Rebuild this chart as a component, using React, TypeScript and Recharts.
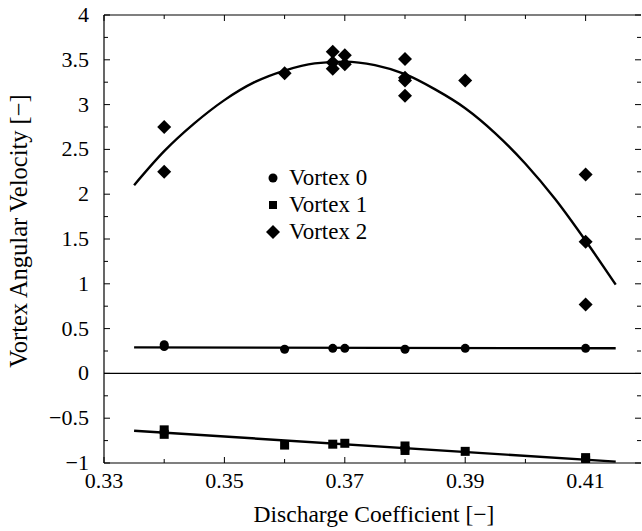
import React from "react";
import {
  ComposedChart,
  Line,
  Scatter,
  XAxis,
  YAxis,
  ReferenceLine,
  Legend,
  Label,
} from "recharts";

const FONT = "Liberation Serif, serif";

// measured points (discharge coefficient, angular velocity)
const vortex0 = [
  { x: 0.34, y: 0.32 },
  { x: 0.34, y: 0.3 },
  { x: 0.36, y: 0.27 },
  { x: 0.368, y: 0.28 },
  { x: 0.37, y: 0.28 },
  { x: 0.38, y: 0.27 },
  { x: 0.39, y: 0.28 },
  { x: 0.41, y: 0.28 },
];

const vortex1 = [
  { x: 0.34, y: -0.63 },
  { x: 0.34, y: -0.68 },
  { x: 0.36, y: -0.8 },
  { x: 0.368, y: -0.79 },
  { x: 0.37, y: -0.78 },
  { x: 0.38, y: -0.81 },
  { x: 0.38, y: -0.86 },
  { x: 0.39, y: -0.87 },
  { x: 0.41, y: -0.94 },
  { x: 0.41, y: -0.97 },
];

const vortex2 = [
  { x: 0.34, y: 2.75 },
  { x: 0.34, y: 2.25 },
  { x: 0.36, y: 3.35 },
  { x: 0.368, y: 3.59 },
  { x: 0.368, y: 3.47 },
  { x: 0.368, y: 3.4 },
  { x: 0.37, y: 3.55 },
  { x: 0.37, y: 3.45 },
  { x: 0.38, y: 3.51 },
  { x: 0.38, y: 3.3 },
  { x: 0.38, y: 3.27 },
  { x: 0.38, y: 3.1 },
  { x: 0.39, y: 3.27 },
  { x: 0.41, y: 2.22 },
  { x: 0.41, y: 1.47 },
  { x: 0.41, y: 0.77 },
];

// fitted curves
const fit0 = [
  { x: 0.335, y: 0.29 },
  { x: 0.415, y: 0.28 },
];

const fit1 = [
  { x: 0.335, y: -0.64 },
  { x: 0.415, y: -0.985 },
];

const fit2 = [
  { x: 0.335, y: 2.1 },
  { x: 0.34, y: 2.48 },
  { x: 0.345, y: 2.79 },
  { x: 0.35, y: 3.05 },
  { x: 0.355, y: 3.25 },
  { x: 0.36, y: 3.38 },
  { x: 0.365, y: 3.46 },
  { x: 0.37, y: 3.48 },
  { x: 0.375, y: 3.44 },
  { x: 0.38, y: 3.34 },
  { x: 0.385, y: 3.17 },
  { x: 0.39, y: 2.96 },
  { x: 0.395, y: 2.68 },
  { x: 0.4, y: 2.34 },
  { x: 0.405, y: 1.94 },
  { x: 0.41, y: 1.48 },
  { x: 0.415, y: 0.99 },
];

const xTicks = [0.33, 0.34, 0.35, 0.36, 0.37, 0.38, 0.39, 0.4, 0.41];
const xLabels = [0.33, 0.35, 0.37, 0.39, 0.41];
const yTicks = [-1, -0.75, -0.5, -0.25, 0, 0.25, 0.5, 0.75, 1, 1.25, 1.5, 1.75, 2, 2.25, 2.5, 2.75, 3, 3.25, 3.5, 3.75, 4];
const yLabels = [-1, -0.5, 0, 0.5, 1, 1.5, 2, 2.5, 3, 3.5, 4];

const X_DOMAIN = [0.33, 0.4192];
const Y_DOMAIN = [-1, 4];

const fmt = (v: number) => (v < 0 ? "\u2212" + String(-v) : String(v));

const Circle = (p: any) => <circle cx={p.cx} cy={p.cy} r={4.5} fill="#000" />;
const Square = (p: any) => <rect x={p.cx - 4.5} y={p.cy - 4.5} width={9} height={9} fill="#000" />;
const Diamond = (p: any) => (
  <polygon
    points={`${p.cx},${p.cy - 7} ${p.cx + 7},${p.cy} ${p.cx},${p.cy + 7} ${p.cx - 7},${p.cy}`}
    fill="#000"
  />
);

const BottomTick = (props: any) => {
  const { x, y, payload } = props;
  const major = xLabels.includes(payload.value);
  return (
    <g>
      <line x1={x} x2={x} y1={y} y2={y - (major ? 6 : 4)} stroke="#000" />
      {major && (
        <text x={x} y={y + 25} textAnchor="middle" fontSize={22} fontFamily={FONT} fill="#000">
          {payload.value.toFixed(2)}
        </text>
      )}
    </g>
  );
};

const TopTick = (props: any) => {
  const { x, y, payload } = props;
  const major = xLabels.includes(payload.value);
  return <line x1={x} x2={x} y1={y} y2={y + (major ? 6 : 4)} stroke="#000" />;
};

const LeftTick = (props: any) => {
  const { x, y, payload } = props;
  const major = yLabels.includes(payload.value);
  return (
    <g>
      <line x1={x} x2={x + (major ? 6 : 4)} y1={y} y2={y} stroke="#000" />
      {major && (
        <text x={x - 15} y={y + 7} textAnchor="end" fontSize={22} fontFamily={FONT} fill="#000">
          {fmt(payload.value)}
        </text>
      )}
    </g>
  );
};

const RightTick = (props: any) => {
  const { x, y, payload } = props;
  const major = yLabels.includes(payload.value);
  return <line x1={x} x2={x - (major ? 6 : 4)} y1={y} y2={y} stroke="#000" />;
};

const YTitle = () => (
  <text
    transform="translate(27,231) rotate(-90)"
    textAnchor="middle"
    fontSize={24.5}
    fontFamily={FONT}
    fill="#000"
  >
    Vortex Angular Velocity [{"\u2212"}]
  </text>
);

const XTitle = () => (
  <text x={374} y={522} textAnchor="middle" fontSize={23.5} fontFamily={FONT} fill="#000">
    Discharge Coefficient [{"\u2212"}]
  </text>
);

const legendItems = [
  { name: "Vortex 0", shape: "circle" },
  { name: "Vortex 1", shape: "square" },
  { name: "Vortex 2", shape: "diamond" },
];

const renderLegend = () => (
  <div style={{ fontFamily: FONT, fontSize: 23, color: "#000" }}>
    {legendItems.map((it) => (
      <div key={it.name} style={{ display: "flex", alignItems: "center", height: 27 }}>
        <svg width={22} height={20} style={{ marginRight: 5 }}>
          {it.shape === "circle" && <circle cx={11} cy={10} r={4.5} fill="#000" />}
          {it.shape === "square" && <rect x={7} y={6} width={8} height={8} fill="#000" />}
          {it.shape === "diamond" && <polygon points="11,3 18,10 11,17 4,10" fill="#000" />}
        </svg>
        <span>{it.name}</span>
      </div>
    ))}
  </div>
);

export default function App() {
  return (
    <div style={{ position: "absolute", left: 0, top: 0, background: "#fff", fontFamily: FONT }}>
      <ComposedChart width={642} height={531} margin={{ top: 0, right: 0, bottom: 0, left: 0 }}>
        <XAxis
          xAxisId="b"
          dataKey="x"
          type="number"
          orientation="bottom"
          domain={X_DOMAIN}
          allowDataOverflow
          ticks={xTicks}
          interval={0}
          height={68}
          tickSize={0}
          tickMargin={0}
          tickLine={false}
          tick={<BottomTick />}
          axisLine={{ stroke: "#000", strokeWidth: 1.2 }}
        >
          <Label content={<XTitle />} />
        </XAxis>
        <XAxis
          xAxisId="t"
          dataKey="x"
          type="number"
          orientation="top"
          domain={X_DOMAIN}
          allowDataOverflow
          ticks={xTicks}
          interval={0}
          height={15}
          tickSize={0}
          tickMargin={0}
          tickLine={false}
          tick={<TopTick />}
          axisLine={{ stroke: "#000", strokeWidth: 1.2 }}
        />
        <YAxis
          yAxisId="l"
          type="number"
          domain={Y_DOMAIN}
          allowDataOverflow
          ticks={yTicks}
          interval={0}
          width={104}
          tickSize={0}
          tickMargin={0}
          tickLine={false}
          tick={<LeftTick />}
          axisLine={{ stroke: "#000", strokeWidth: 1.2 }}
        >
          <Label content={<YTitle />} />
        </YAxis>
        <YAxis
          yAxisId="r"
          orientation="right"
          type="number"
          domain={Y_DOMAIN}
          allowDataOverflow
          ticks={yTicks}
          interval={0}
          width={1}
          tickSize={0}
          tickMargin={0}
          tickLine={false}
          tick={<RightTick />}
          axisLine={false}
        />
        <ReferenceLine xAxisId="b" yAxisId="l" y={0} stroke="#000" strokeWidth={1.2} />
        <Line xAxisId="b" yAxisId="l" data={fit0} dataKey="y" type="linear" stroke="#000" strokeWidth={2.4} dot={false} isAnimationActive={false} />
        <Line xAxisId="b" yAxisId="l" data={fit1} dataKey="y" type="linear" stroke="#000" strokeWidth={2.4} dot={false} isAnimationActive={false} />
        <Line xAxisId="b" yAxisId="l" data={fit2} dataKey="y" type="monotone" stroke="#000" strokeWidth={2.4} dot={false} isAnimationActive={false} />
        <Scatter xAxisId="b" yAxisId="l" name="Vortex 0" data={vortex0} dataKey="y" shape={Circle} isAnimationActive={false} />
        <Scatter xAxisId="b" yAxisId="l" name="Vortex 1" data={vortex1} dataKey="y" shape={Square} isAnimationActive={false} />
        <Scatter xAxisId="b" yAxisId="l" name="Vortex 2" data={vortex2} dataKey="y" shape={Diamond} isAnimationActive={false} />
        <Legend
          layout="vertical"
          align="center"
          verticalAlign="middle"
          content={renderLegend}
          wrapperStyle={{ position: "absolute", left: 262, top: 164, width: "auto" }}
        />
      </ComposedChart>
    </div>
  );
}
